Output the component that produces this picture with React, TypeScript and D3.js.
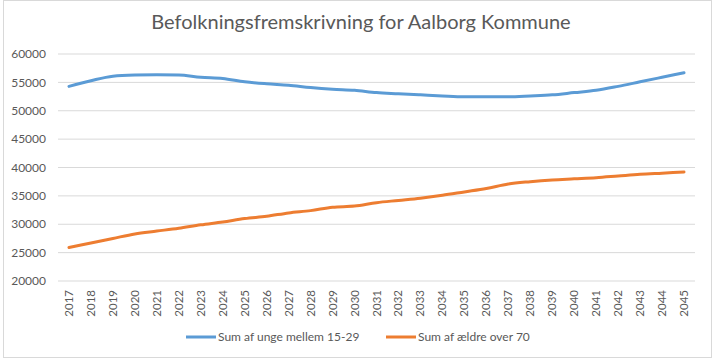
import React from "react";
import * as d3 from "d3";

const years = d3.range(2017, 2046).map(String);
const youngSeries = [
  54300, 55300, 56100, 56300, 56350, 56300, 55900, 55700, 55100, 54750,
  54500, 54100, 53800, 53600, 53200, 53000, 52800, 52600, 52450, 52450,
  52450, 52600, 52800, 53200, 53600, 54300, 55100, 55900, 56700,
];
const elderSeries = [
  25900, 26700, 27500, 28300, 28800, 29300, 29900, 30400, 31000, 31400,
  32000, 32400, 33000, 33200, 33800, 34200, 34600, 35100, 35700, 36300,
  37100, 37500, 37800, 38000, 38200, 38500, 38800, 39000, 39200,
];
const yTicks = [20000, 25000, 30000, 35000, 40000, 45000, 50000, 55000, 60000];
const seriesNames = ["Sum af unge mellem 15-29", "Sum af ældre over 70"];
const seriesColors = ["#5B9BD5", "#ED7D31"];

const W = 720;
const H = 360;
const font = "Lato, 'Open Sans', sans-serif";

export default function App() {
  const x = d3.scalePoint().domain(years).range([58, 695]).padding(0.5);
  const y = d3.scaleLinear().domain([20000, 60000]).range([281, 54]);

  const line = d3
    .line<number>()
    .x((_, i) => x(years[i]) as number)
    .y((d) => y(d))
    .curve(d3.curveMonotoneX);

  const series = [youngSeries, elderSeries];

  return (
    <svg
      width={W}
      height={H}
      style={{ position: "absolute", left: 0, top: 0, background: "#fff" }}
    >
      <rect x={3.5} y={0.5} width={708} height={357} fill="#fff" stroke="#D9D9D9" />
      <text
        x={361}
        y={29}
        textAnchor="middle"
        fontFamily={font}
        fontSize={20}
        fill="#595959"
      >
        Befolkningsfremskrivning for Aalborg Kommune
      </text>

      {yTicks.map((t) => (
        <g key={t}>
          <line x1={58} x2={695} y1={y(t)} y2={y(t)} stroke="#D9D9D9" strokeWidth={1} />
          <text
            x={46}
            y={y(t)}
            dy="0.35em"
            textAnchor="end"
            fontFamily={font}
            fontSize={12}
            fill="#595959"
          >
            {t}
          </text>
        </g>
      ))}

      {years.map((yr) => (
        <text
          key={yr}
          transform={`translate(${(x(yr) as number) + 4},290) rotate(-90)`}
          textAnchor="end"
          fontFamily={font}
          fontSize={11.5}
          fill="#595959"
        >
          {yr}
        </text>
      ))}

      {series.map((s, i) => (
        <path
          key={i}
          d={line(s) as string}
          fill="none"
          stroke={seriesColors[i]}
          strokeWidth={3}
          strokeLinecap="round"
          strokeLinejoin="round"
        />
      ))}

      {seriesNames.map((name, i) => {
        const lx = i === 0 ? 186 : 386;
        return (
          <g key={name}>
            <line
              x1={lx}
              x2={lx + 30}
              y1={337}
              y2={337}
              stroke={seriesColors[i]}
              strokeWidth={3}
            />
            <text
              x={lx + 32}
              y={337}
              dy="0.35em"
              fontFamily={font}
              fontSize={12}
              fill="#595959"
            >
              {name}
            </text>
          </g>
        );
      })}
    </svg>
  );
}
